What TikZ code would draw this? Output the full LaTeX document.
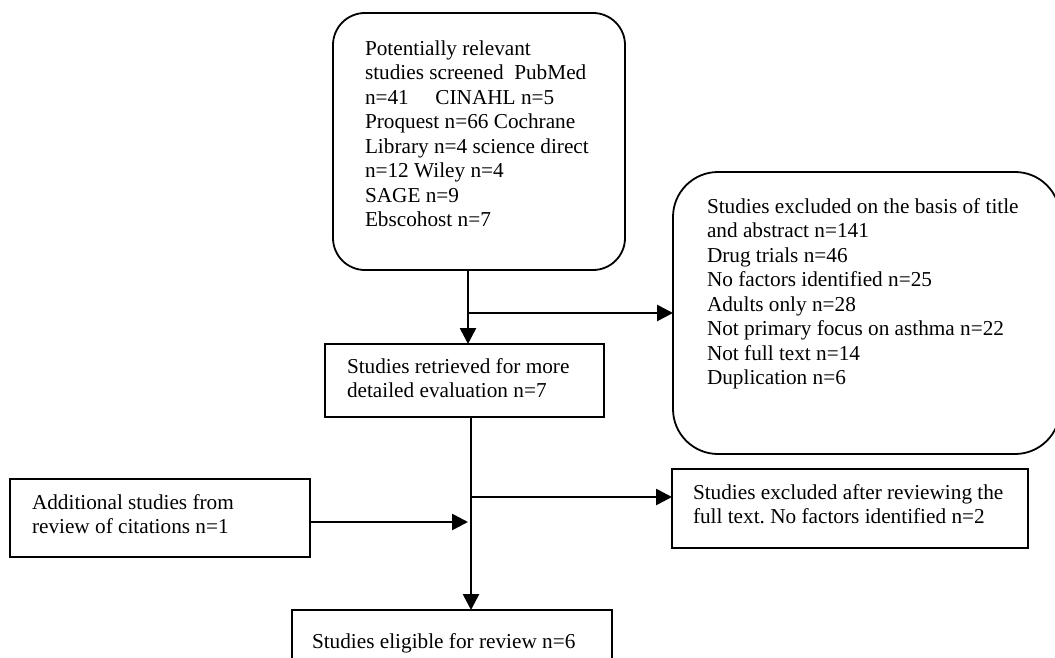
\documentclass[tikz,border=0pt]{standalone}
\usepackage{fontspec}
\setmainfont{Liberation Serif}
\usetikzlibrary{arrows.meta}
\newcommand\diagfont{\fontsize{21.25pt}{24.5pt}\selectfont\frenchspacing}
\tikzset{
  box/.style={draw=black, line width=1.8pt, rectangle, inner sep=0pt, outer sep=0pt},
  rbox/.style={box, rounded corners=#1},
  txt/.style={anchor=north west, inner sep=0pt, outer sep=0pt, align=left, font=\diagfont},
  conn/.style={draw=black, line width=2.7pt, -{Triangle[length=16pt,width=16pt]}},
}
\begin{document}
\begin{tikzpicture}[x=1pt,y=-1pt]
\useasboundingbox (0,0) rectangle (1055,658);
\fill[white] (0,0) rectangle (1055,658);
\clip (0,0) rectangle (1055,658);
% boxes
\node[rbox=32pt, minimum width=292pt, minimum height=257pt] (top) at (479,141.5) {};
\node[rbox=45pt, minimum width=387pt, minimum height=282pt] (excl) at (866.5,313) {};
\node[box, minimum width=279pt, minimum height=73pt] (mid) at (464.5,380.5) {};
\node[box, minimum width=300pt, minimum height=78pt] (add) at (160,518) {};
\node[box, minimum width=356pt, minimum height=79pt] (full) at (850,508.5) {};
\node[box, minimum width=320pt, minimum height=70pt] (elig) at (452,645) {};
% texts (north west = first baseline - 17.15)
\node[txt] (toptxt) at (365,37.85) {\strut Potentially relevant\\\strut studies screened\ \ PubMed\\\strut n=41\quad\ CINAHL n=5\\\strut Proquest n=66 Cochrane\\\strut Library n=4 science direct\\\strut n=12 Wiley n=4\\\strut SAGE n=9\\\strut Ebscohost n=7};
\node[txt] (excltxt) at (707,195.85) {\strut Studies excluded on the basis of title\\\strut and abstract n=141\\\strut Drug trials n=46\\\strut No factors identified n=25\\\strut Adults only n=28\\\strut Not primary focus on asthma n=22\\\strut Not full text n=14\\\strut Duplication n=6};
\node[txt] (midtxt) at (347,355.85) {\strut Studies retrieved for more\\\strut detailed evaluation n=7};
\node[txt] (addtxt) at (32,491.85) {\strut Additional studies from\\\strut review of citations n=1};
\node[txt] (fulltxt) at (693,481.85) {\strut Studies excluded after reviewing the\\\strut full text. No factors identified n=2};
\node[txt] (eligtxt) at (312,630.85) {\strut Studies eligible for review n=6};
% connectors
\coordinate (v1) at (468,0);
\coordinate (v2) at (471,0);
\coordinate (b1) at (468,313);
\coordinate (b2) at (471,497);
\coordinate (j) at (468,522);
\draw[conn] (top.south -| v1) -- (mid.north -| v1);
\draw[conn] (b1) -- (excl.west |- b1);
\draw[conn] (mid.south -| v2) -- (elig.north -| v2);
\draw[conn] (b2) -- (full.west |- b2);
\draw[conn] (add.east |- j) -- (j);
\end{tikzpicture}
\end{document}
